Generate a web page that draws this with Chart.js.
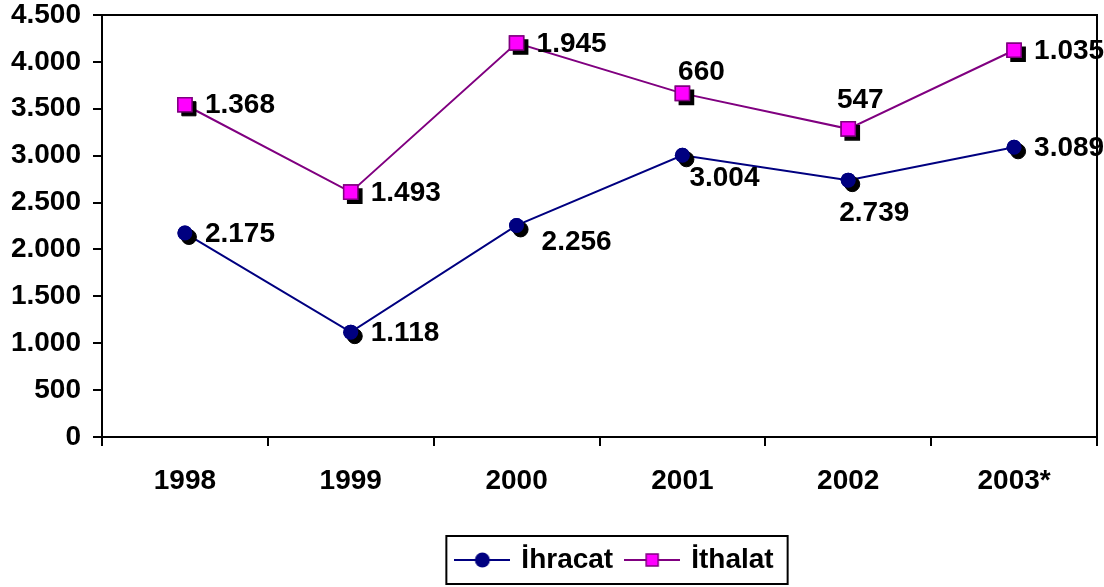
<!DOCTYPE html>
<html>
<head>
<meta charset="utf-8">
<script src="https://cdn.jsdelivr.net/npm/chart.js@4.4.1/dist/chart.umd.min.js"></script>
<style>
  html, body { margin: 0; padding: 0; background: #fff; }
  #wrap { width: 1104px; height: 587px; }
</style>
</head>
<body>
<div id="wrap"><canvas id="grafik"></canvas></div>
<script>
// Veriler
const yillar = ['1998', '1999', '2000', '2001', '2002', '2003*'];
const ihracat = [2175, 1118, 2256, 3004, 2739, 3089];
const ithalat = [1368, 1493, 1945, 660, 547, 1035];
const yMin = 0;
const yMax = 4500;
const yAdim = 500;

const FONT = '"Liberation Sans", Arial, sans-serif';
const YAZI = 28;

// 4500 -> "4.500"
function binlik(n) {
  return String(n).replace(/\B(?=(\d{3})+(?!\d))/g, '.');
}

// Etiket yerleşimi (noktaya göre kaydırma)
const sag = { dx: 20, dy: 1, align: 'left' };
const yerlesim = [
  [sag, sag, { dx: 25, dy: 17, align: 'left' }, { dx: 7, dy: 23, align: 'left' }, { dx: -9, dy: 33, align: 'left' }, sag],
  [sag, sag, sag, { dx: 19, dy: -21, align: 'center' }, { dx: 12, dy: -29, align: 'center' }, sag]
];

// Lejant simgesi: çizgi + işaret
function lejantSimgesi(renk, cizgi, kare) {
  const c = document.createElement('canvas');
  c.width = 56; c.height = 18;
  const g = c.getContext('2d');
  g.strokeStyle = cizgi; g.lineWidth = 2;
  g.beginPath(); g.moveTo(0, 9); g.lineTo(56, 9); g.stroke();
  if (kare) {
    g.fillStyle = renk; g.strokeStyle = cizgi; g.lineWidth = 1.5;
    g.fillRect(22, 3, 12, 12); g.strokeRect(22, 3, 12, 12);
  } else {
    g.fillStyle = renk;
    g.beginPath(); g.arc(28, 9, 7.5, 0, Math.PI * 2); g.fill();
  }
  return c;
}

const golgeVeEtiket = {
  id: 'golgeVeEtiket',
  afterDatasetsDraw(chart) {
    const ctx = chart.ctx;
    chart.data.datasets.forEach((ds, i) => {
      const meta = chart.getDatasetMeta(i);
      meta.data.forEach((pt, j) => {
        const o = pt.options;
        ctx.save();
        ctx.fillStyle = '#000';
        ctx.strokeStyle = '#000';
        Chart.helpers.drawPoint(ctx, { pointStyle: o.pointStyle, radius: o.radius, rotation: 0, borderWidth: 1 }, pt.x + 4, pt.y + 4);
        ctx.restore();
        pt.draw(ctx);
        const p = yerlesim[i][j];
        ctx.save();
        ctx.font = 'bold ' + YAZI + 'px ' + FONT;
        ctx.fillStyle = '#000';
        ctx.textAlign = p.align;
        ctx.textBaseline = 'middle';
        ctx.fillText(binlik(ds.data[j]), pt.x + p.dx, pt.y + p.dy);
        ctx.restore();
      });
    });
  },
  afterDraw(chart) {
    const { ctx, chartArea } = chart;
    ctx.save();
    ctx.strokeStyle = '#000';
    ctx.lineWidth = 2;
    ctx.beginPath();
    ctx.moveTo(chartArea.left, chartArea.top);
    ctx.lineTo(chartArea.right, chartArea.top);
    ctx.lineTo(chartArea.right, chartArea.bottom);
    ctx.stroke();
    // lejant çerçevesi
    const lg = chart.legend;
    const pad = lg.options.labels.padding;
    const genislik = lg.lineWidths[0];
    const x0 = (lg.left + pad + lg.right - genislik) / 2;
    const yOrta = lg.top + pad + YAZI / 2;
    ctx.strokeRect(x0 - 11, yOrta - 24, genislik - pad + 25, 48);
    ctx.restore();
  },
  afterLayout(chart) {
    chart.legend.left += 67;
    chart.legend.right += 67;
  }
};

new Chart(document.getElementById('grafik'), {
  type: 'line',
  data: {
    labels: yillar,
    datasets: [
      {
        label: 'İhracat',
        data: ihracat,
        borderColor: '#000080',
        backgroundColor: '#000080',
        borderWidth: 2,
        pointStyle: 'circle',
        pointRadius: 7.5,
        pointBorderWidth: 0,
        pointBackgroundColor: '#000080',
        fill: false,
        tension: 0
      },
      {
        label: 'İthalat',
        data: ithalat,
        borderColor: '#800080',
        backgroundColor: '#FF00FF',
        borderWidth: 2,
        pointStyle: 'rect',
        pointRadius: 10,
        pointBorderWidth: 1.5,
        pointBorderColor: '#800080',
        pointBackgroundColor: '#FF00FF',
        fill: false,
        tension: 0
      }
    ]
  },
  options: {
    responsive: true,
    maintainAspectRatio: false,
    animation: false,
    layout: { autoPadding: false, padding: { top: 15, right: 7, bottom: 3, left: 0 } },
    plugins: {
      tooltip: { enabled: false },
      legend: {
        position: 'bottom',
        labels: {
          usePointStyle: true,
          pointStyleWidth: 50,
          padding: 14,
          color: '#000',
          font: { family: FONT, size: YAZI, weight: 'bold' },
          generateLabels(chart) {
            return [
              { text: 'İhracat', pointStyle: lejantSimgesi('#000080', '#000080', false), fontColor: '#000', lineWidth: 0, strokeStyle: 'transparent', fillStyle: 'transparent', datasetIndex: 0 },
              { text: 'İthalat', pointStyle: lejantSimgesi('#FF00FF', '#800080', true), fontColor: '#000', lineWidth: 0, strokeStyle: 'transparent', fillStyle: 'transparent', datasetIndex: 1 }
            ];
          }
        }
      }
    },
    scales: {
      x: {
        offset: true,
        grid: { display: true, drawOnChartArea: false, drawTicks: true, tickLength: 9, color: '#000', lineWidth: 2, offset: true },
        border: { display: true, color: '#000', width: 2 },
        ticks: { color: '#000', padding: 18, font: { family: FONT, size: YAZI, weight: 'bold' }, maxRotation: 0 },
        afterFit(scale) { scale.height = 95; scale.paddingLeft = 0; scale.paddingRight = 0; }
      },
      y: {
        stacked: true,
        min: yMin,
        max: yMax,
        grid: { display: true, drawOnChartArea: false, drawTicks: true, tickLength: 9, color: '#000', lineWidth: 2 },
        border: { display: true, color: '#000', width: 2 },
        ticks: {
          stepSize: yAdim,
          color: '#000',
          padding: 12,
          font: { family: FONT, size: YAZI, weight: 'bold' },
          callback: v => binlik(v)
        },
        afterFit(scale) { scale.width = 102; scale.paddingTop = 0; scale.paddingBottom = 0; }
      }
    }
  },
  plugins: [golgeVeEtiket]
});
</script>
</body>
</html>
